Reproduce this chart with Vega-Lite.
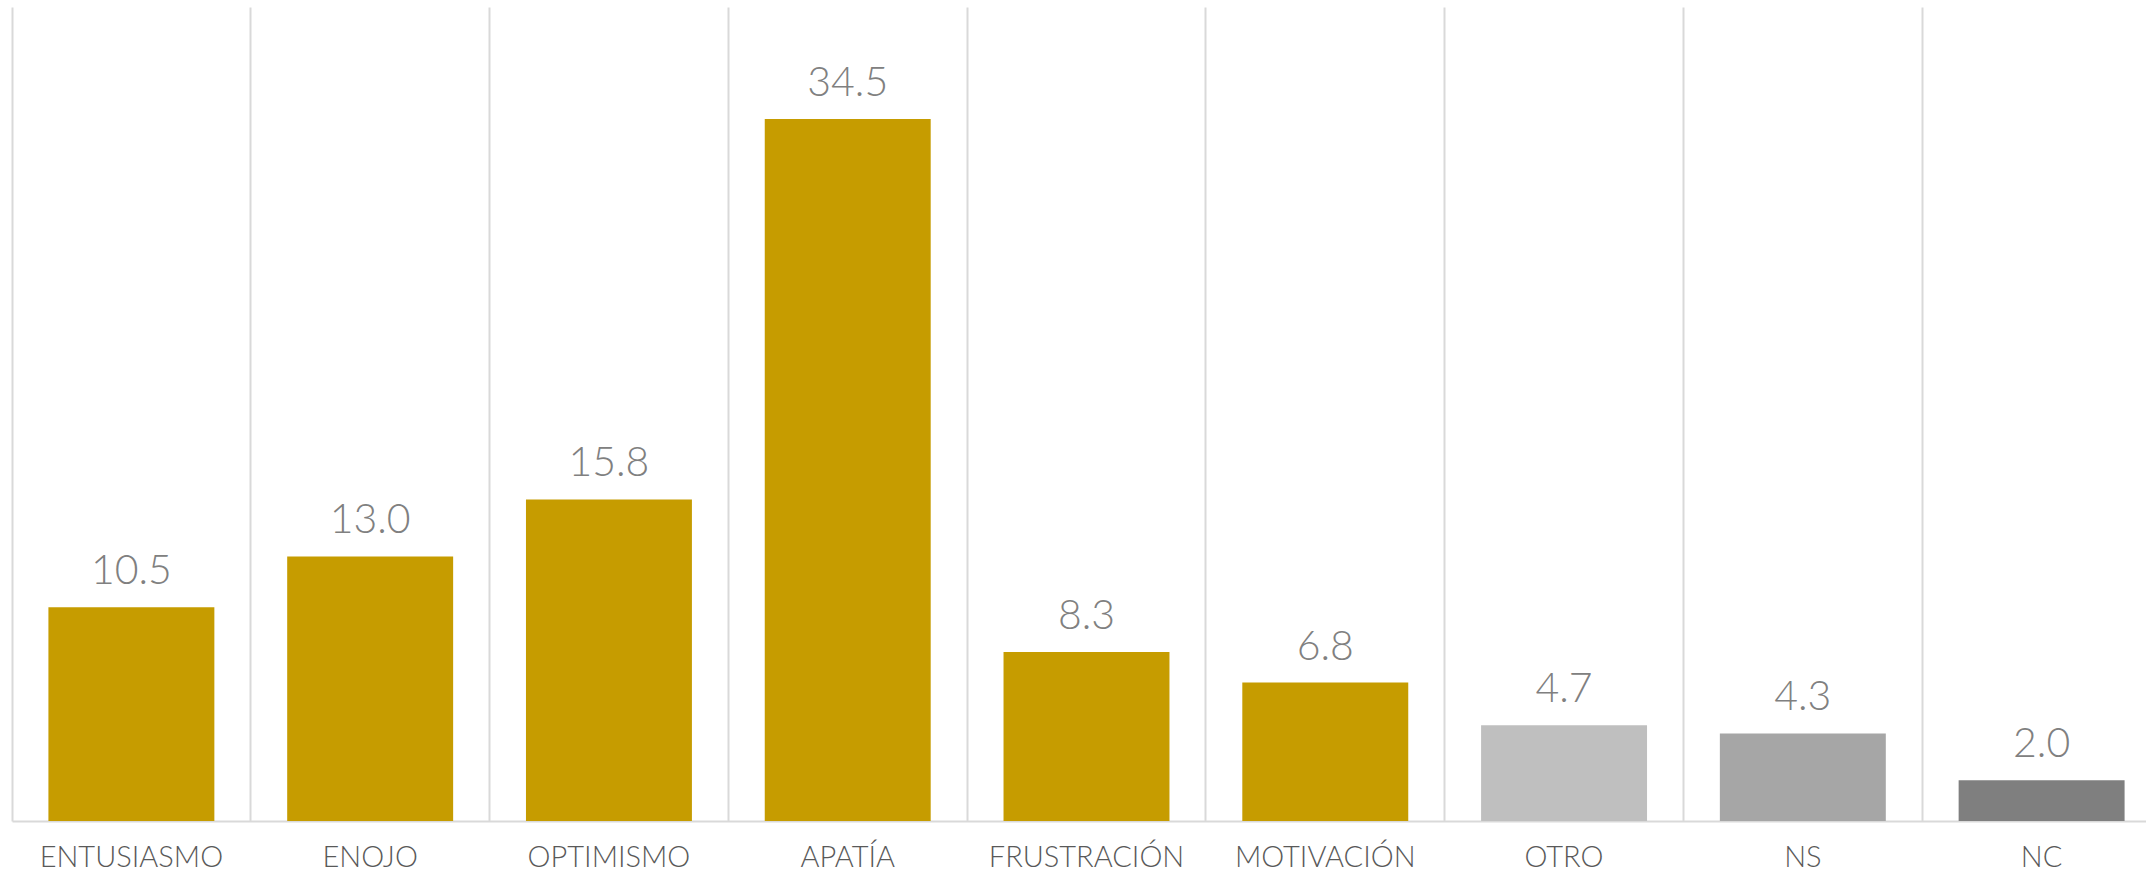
{
  "$schema": "https://vega.github.io/schema/vega-lite/v6.json",
  "autosize": {"type": "none"},
  "padding": {"left": 12, "top": 7, "right": 0, "bottom": 51},
  "width": 2134,
  "height": 814,
  "background": "#ffffff",
  "config": {"view": {"stroke": null}},
  "data": {
    "values": [
      {"categoria": "ENTUSIASMO", "valor": 10.5, "grupo": "emocion"},
      {"categoria": "ENOJO", "valor": 13.0, "grupo": "emocion"},
      {"categoria": "OPTIMISMO", "valor": 15.8, "grupo": "emocion"},
      {"categoria": "APATÍA", "valor": 34.5, "grupo": "emocion"},
      {"categoria": "FRUSTRACIÓN", "valor": 8.3, "grupo": "emocion"},
      {"categoria": "MOTIVACIÓN", "valor": 6.8, "grupo": "emocion"},
      {"categoria": "OTRO", "valor": 4.7, "grupo": "otro"},
      {"categoria": "NS", "valor": 4.3, "grupo": "ns"},
      {"categoria": "NC", "valor": 2.0, "grupo": "nc"}
    ]
  },
  "encoding": {
    "x": {
      "field": "categoria",
      "type": "nominal",
      "sort": null,
      "scale": {"range": [0, 2149], "paddingInner": 0, "paddingOuter": 0},
      "axis": {
        "title": null,
        "labelAngle": 0,
        "ticks": false,
        "bandPosition": 0,
        "grid": true,
        "gridColor": "#d9d9d9",
        "gridWidth": 2,
        "domainColor": "#d9d9d9",
        "domainWidth": 2,
        "labelFont": "Lato",
        "labelFontWeight": 300,
        "labelFontSize": 29,
        "labelColor": "#595959",
        "labelBaseline": "alphabetic",
        "labelPadding": 45,
        "labelOverlap": false,
        "labelLimit": 400
      }
    },
    "y": {
      "field": "valor",
      "type": "quantitative",
      "scale": {"domain": [0, 40], "nice": false},
      "axis": null
    }
  },
  "layer": [
    {
      "mark": {"type": "bar", "width": {"band": 0.695}},
      "encoding": {
        "color": {
          "field": "grupo",
          "type": "nominal",
          "scale": {
            "domain": ["emocion", "otro", "ns", "nc"],
            "range": ["#c69c00", "#bfbfbf", "#a6a6a6", "#7f7f7f"]
          },
          "legend": null
        }
      }
    },
    {
      "mark": {
        "type": "text",
        "baseline": "alphabetic",
        "dy": -23,
        "font": "Lato",
        "fontWeight": 300,
        "fontSize": 41,
        "color": "#808080"
      },
      "encoding": {
        "text": {"field": "valor", "type": "quantitative", "format": ".1f"}
      }
    }
  ]
}
